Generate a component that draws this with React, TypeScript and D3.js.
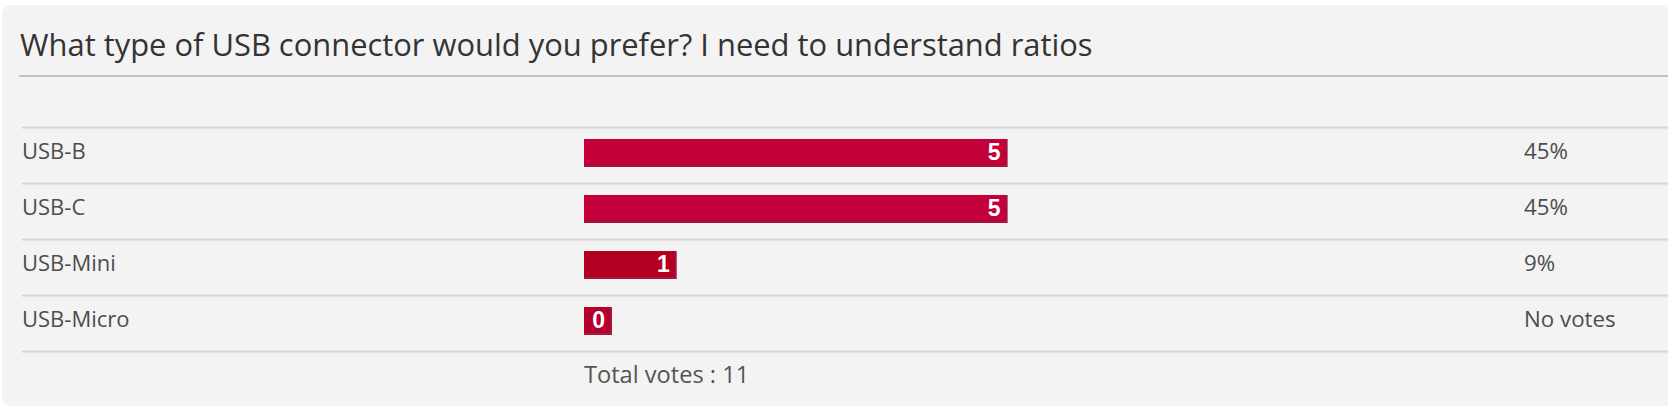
import React from "react";
import * as d3 from "d3";

const title = "What type of USB connector would you prefer? I need to understand ratios";
const categories = ["USB-B", "USB-C", "USB-Mini", "USB-Micro"];
const votes = [5, 5, 1, 0];
const barColors = ["#c4003b", "#c4003b", "#b30022", "#b5002b"];
const noVotesLabel = "No votes";
const totalLabel = "Total votes : ";

const W = 1668;
const H = 412;
const FONT = "'Open Sans', 'Noto Sans', sans-serif";

export default function App() {
  const total = d3.sum(votes);
  const y = d3.scaleBand<string>().domain(categories).range([127.5, 127.5 + 56 * categories.length]).padding(0);
  const x = d3.scaleLinear().domain([0, total]).range([0, 910]);
  const barX = 584;
  const pct = (v: number) => (v === 0 ? noVotesLabel : `${Math.round((v / total) * 100)}%`);
  const lineYs = [...categories.map((c) => y(c) as number), y.range()[1]];

  return (
    <svg
      width={W}
      height={H}
      style={{ position: "absolute", left: 0, top: 0, display: "block" }}
      fontFamily={FONT}
    >
      <rect x={0} y={0} width={W} height={H} fill="#ffffff" />
      <rect x={2} y={5} width={W + 20} height={401} rx={9} fill="#f3f3f3" />
      <text x={20} y={55.5} fontSize={30.9} fill="#333333">
        {title}
      </text>
      <line x1={19} x2={W} y1={76} y2={76} stroke="#c1c1c1" strokeWidth={2} />
      {lineYs.map((ly, i) => (
        <line key={i} x1={22} x2={W} y1={ly} y2={ly} stroke="#d4d4d4" strokeWidth={2} />
      ))}
      {categories.map((c, i) => {
        const by = (y(c) as number);
        const w = Math.max(x(votes[i]) + 10, 28);
        return (
          <g key={c}>
            <text x={22} y={by + 31} fontSize={22} fill="#4d4d4d">
              {c}
            </text>
            <rect x={barX} y={by + 11.5} width={w} height={28} fill="#a01842" />
            <rect x={barX} y={by + 11.5} width={w - 2} height={26} fill={barColors[i]} />
            <text
              x={barX + w - 7}
              y={by + 32}
              fontSize={23}
              fontWeight="bold"
              fontFamily="'Liberation Sans', Arial, sans-serif"
              fill="#ffffff"
              textAnchor="end"
            >
              {votes[i]}
            </text>
            <text x={1524} y={by + 31} fontSize={22.3} fill="#4d4d4d">
              {pct(votes[i])}
            </text>
          </g>
        );
      })}
      <text x={584} y={383} fontSize={23.6} fill="#555555">
        {totalLabel}
        {total}
      </text>
    </svg>
  );
}
